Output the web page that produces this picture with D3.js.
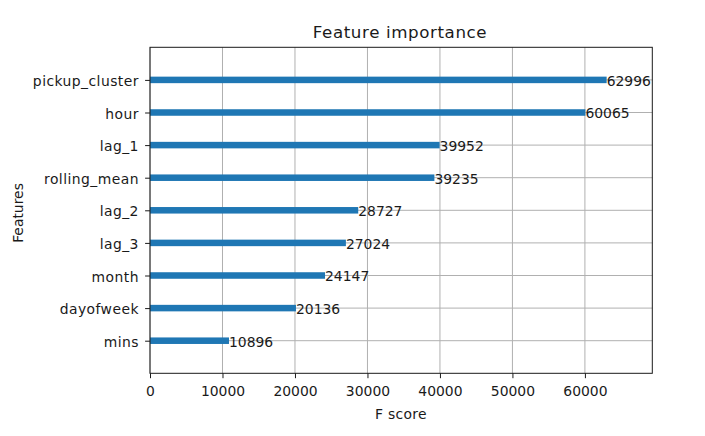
<!DOCTYPE html>
<html><head><meta charset="utf-8">
<script src="https://cdn.jsdelivr.net/npm/d3@7"></script>
<style>body{margin:0;background:#fff}svg{display:block}text{font-family:"DejaVu Sans",sans-serif;fill:#1a1a1a}</style>
</head><body><div id="chart"></div>
<script>
const features = ["mins","dayofweek","month","lag_3","lag_2","rolling_mean","lag_1","hour","pickup_cluster"];
const scores = [10896,20136,24147,27024,28727,39235,39952,60065,62996];
const xTicks = [0,10000,20000,30000,40000,50000,60000];
const titleText = "Feature importance", xLabel = "F score", yLabel = "Features";

const W=705,H=436, L=150, R=652.3, T=47.3, B=373.3;
const FS="13.9px";
const svg=d3.select("#chart").append("svg").attr("width",W).attr("height",H);
const x=d3.scaleLinear().domain([0,d3.max(scores)*1.1]).range([L,R]);
const y=d3.scaleLinear().domain([-1,features.length]).range([B,T]);
const barH = y(0)-y(0.2);

// grid
const g=svg.append("g");
g.selectAll(".vg").data(xTicks).join("line").attr("x1",d=>x(d)).attr("x2",d=>x(d)).attr("y1",T).attr("y2",B).attr("stroke","#b0b0b0").attr("stroke-width",1);
g.selectAll(".hg").data(features).join("line").attr("x1",L).attr("x2",R).attr("y1",(d,i)=>y(i)).attr("y2",(d,i)=>y(i)).attr("stroke","#b0b0b0").attr("stroke-width",1);

// bars
svg.selectAll(".bar").data(scores).join("rect").attr("x",x(0)).attr("y",(d,i)=>y(i)-barH/2).attr("width",d=>x(d)-x(0)).attr("height",barH).attr("fill","#1f77b4");
// value labels
svg.selectAll(".val").data(scores).join("text").attr("x",d=>x(d+1)).attr("y",(d,i)=>y(i)+1).attr("dy","0.35em").attr("font-size",FS).text(d=>d);

// axes
const xa=svg.append("g").attr("transform",`translate(0,${B})`).call(d3.axisBottom(x).tickValues(xTicks).tickFormat(d3.format("d")).tickSize(4.9).tickPadding(7.5));
const ya=svg.append("g").attr("transform",`translate(${L},0)`).call(d3.axisLeft(y).tickValues(d3.range(features.length)).tickFormat(i=>features[i]).tickSize(4.9).tickPadding(6.2));
[xa,ya].forEach(a=>{a.select(".domain").remove();a.selectAll("text").attr("font-size",FS).attr("font-family","DejaVu Sans").attr("fill","#1a1a1a");a.selectAll("line").attr("stroke","#1a1a1a").attr("stroke-width",1);});
ya.selectAll("text").attr("letter-spacing","0.45px").attr("dy","0.4em");
// frame
svg.append("rect").attr("x",L).attr("y",T).attr("width",R-L).attr("height",B-T).attr("fill","none").attr("stroke","#1a1a1a").attr("stroke-width",1);

svg.append("text").attr("x",400).attr("y",38).attr("text-anchor","middle").attr("font-size","16.7px").attr("letter-spacing","0.6px").text(titleText);
svg.append("text").attr("x",401).attr("y",419).attr("text-anchor","middle").attr("font-size",FS).attr("letter-spacing","0.3px").text(xLabel);
svg.append("text").attr("transform",`translate(22.5,213) rotate(-90)`).attr("text-anchor","middle").attr("font-size",FS).text(yLabel);
</script></body></html>
